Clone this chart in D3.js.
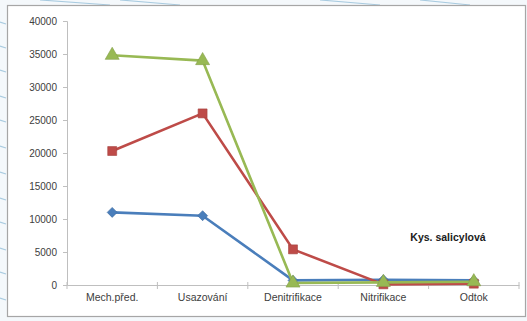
<!DOCTYPE html>
<html><head><meta charset="utf-8">
<script src="https://cdn.jsdelivr.net/npm/d3@7"></script>
<style>body{margin:0;background:#fff;} svg{display:block;}</style>
</head><body>
<svg id="c" width="527" height="321"></svg>
<script>
const categories = ["Mech.před.", "Usazování", "Denitrifikace", "Nitrifikace", "Odtok"];
const seriesBlue = [11000, 10500, 700, 800, 700];
const seriesRed = [20300, 26000, 5400, 100, 200];
const seriesGreen = [34800, 34000, 300, 400, 500];
const yTicks = [0, 5000, 10000, 15000, 20000, 25000, 30000, 35000, 40000];
const annotation = "Kys. salicylová";

const svg = d3.select("#c");
svg.append("rect").attr("x",0).attr("y",0).attr("width",527).attr("height",321).attr("fill","#f4f8fb");
const deco = svg.append("g").attr("stroke","#a9cbe0").attr("stroke-width",1.2).attr("fill","none");
[22,46,70,96,120,146,172,198,222,248,272,298].forEach(yy=>deco.append("line").attr("x1",0).attr("x2",6).attr("y1",yy).attr("y2",yy+2));
[[40,0,110,5],[120,0,180,5],[320,0,380,5],[420,0,470,5]].forEach(d=>deco.append("line").attr("x1",d[0]).attr("y1",d[1]).attr("x2",d[2]).attr("y2",d[3]));
svg.append("rect").attr("x",7.5).attr("y",5.5).attr("width",518).attr("height",311)
  .attr("fill","#fff").attr("stroke","#a6a6a6").attr("stroke-width",1.2);

const x = d3.scaleBand().domain(categories).range([67, 519]);
const y = d3.scaleLinear().domain([0, 40000]).range([285, 21]);

const font = "Liberation Sans, Arial, sans-serif";
const ya = svg.append("g").attr("transform","translate(67,0)")
  .call(d3.axisLeft(y).tickValues(yTicks).tickFormat(d3.format("d")).tickSize(4).tickPadding(6));
ya.select(".domain").attr("stroke","#bfbfbf");
ya.selectAll(".tick line").attr("stroke","#bfbfbf");
ya.selectAll("text").attr("font-family",font).attr("font-size",10).attr("fill","#404040");

const xa = svg.append("g").attr("transform","translate(0,285)")
  .call(d3.axisBottom(x).tickSize(0).tickPadding(9));
xa.select(".domain").attr("stroke","#bfbfbf");
xa.selectAll("text").attr("font-family",font).attr("font-size",10.5).attr("fill","#404040");
const bounds = categories.map(c=>x(c)).concat([x(categories[4])+x.bandwidth()]);
xa.selectAll(".sep").data(bounds).enter().append("line").attr("class","sep")
  .attr("x1",d=>d).attr("x2",d=>d).attr("y1",-3).attr("y2",4).attr("stroke","#bfbfbf");

const cx = c => x(c) + x.bandwidth()/2;
const line = d3.line().x((d,i)=>cx(categories[i])).y(d=>y(d));

function drawSeries(vals, color, shape) {
  svg.append("path").datum(vals).attr("d", line).attr("fill","none")
    .attr("stroke", color).attr("stroke-width", 2.6).attr("stroke-linejoin","round");
  const isDiamond = shape === "diamond";
  const sym = d3.symbol().type(isDiamond ? d3.symbolSquare : shape)
    .size(isDiamond ? 50 : (shape===d3.symbolSquare ? 80 : 85));
  svg.append("g").selectAll("path").data(vals).enter().append("path")
    .attr("d", sym).attr("fill", color).attr("stroke", d3.color(color).darker(0.4))
    .attr("stroke-width",0.6)
    .attr("transform",(d,i)=>`translate(${cx(categories[i])},${y(d)})${isDiamond?" rotate(45)":""}`);
}
drawSeries(seriesBlue, "#4a7ebb", "diamond");
drawSeries(seriesRed, "#be4b48", d3.symbolSquare);
drawSeries(seriesGreen, "#98b954", d3.symbolTriangle);

svg.append("text").attr("x",448).attr("y",241).attr("text-anchor","middle")
  .attr("font-family",font).attr("font-size",10.5).attr("font-weight","bold").attr("fill","#202020")
  .text(annotation);
</script>
</body></html>
